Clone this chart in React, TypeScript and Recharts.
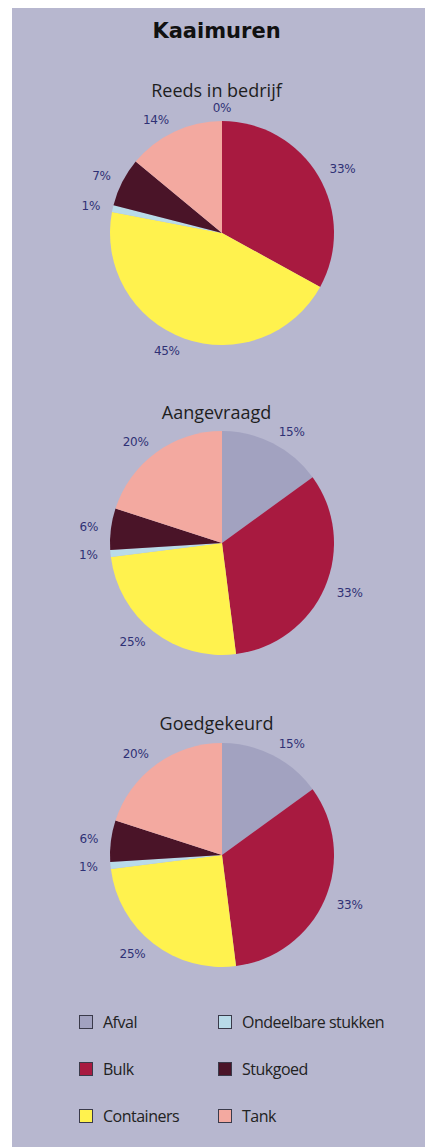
import { PieChart, Pie, Cell } from 'recharts'

const categories = ['Afval', 'Bulk', 'Containers', 'Ondeelbare stukken', 'Stukgoed', 'Tank']
const sliceColors = ['#a2a2c0', '#a81a40', '#fff24e', '#b9dbe9', '#4a1428', '#f3a9a0']

const reedsInBedrijf = [0, 33, 45, 1, 7, 14]
const aangevraagd = [15, 33, 25, 1, 6, 20]
const goedgekeurd = [15, 33, 25, 1, 6, 20]

const pieTitles = ['Reeds in bedrijf', 'Aangevraagd', 'Goedgekeurd']
const pieSeries = [reedsInBedrijf, aangevraagd, goedgekeurd]

// legend laid out in two columns, row by row
const legendOrder = [0, 3, 1, 4, 2, 5]

const PANEL_W = 413
const PANEL_H = 1139
const CX = 210
const CYS = [225, 535, 847]
const TITLE_Y = [81, 403, 714]
const R = 112
const RADIAN = Math.PI / 180

const labelFont = '"DejaVu Sans", sans-serif'

function renderLabel(props: any) {
  const { cx, cy, midAngle, outerRadius, value } = props
  const r = outerRadius + 13
  const cos = Math.cos(-midAngle * RADIAN)
  const sin = Math.sin(-midAngle * RADIAN)
  const x = cx + r * cos
  const y = cy + r * sin
  const anchor = cos > 0.25 ? 'start' : cos < -0.25 ? 'end' : 'middle'
  return (
    <text
      x={x}
      y={y}
      textAnchor={anchor}
      dominantBaseline="central"
      fill="#2f3175"
      fontSize={12}
      letterSpacing={-0.3}
      fontFamily={labelFont}
    >
      {`${value}%`}
    </text>
  )
}

export default function App() {
  return (
    <div style={{ position: 'fixed', left: 0, top: 0, width: 425, height: 1147, background: '#ffffff' }}>
      <div
        style={{
          position: 'absolute',
          left: 12,
          top: 8,
          width: PANEL_W,
          height: PANEL_H,
          background: '#b7b7cf',
          fontFamily: '"Open Sans", "Noto Sans", sans-serif',
          color: '#222222',
        }}
      >
        <div
          style={{
            position: 'absolute',
            top: 11,
            left: 0,
            width: PANEL_W - 4,
            textAlign: 'center',
            fontSize: 21,
            fontWeight: 700,
            fontFamily: '"DejaVu Sans", sans-serif',
            color: '#111111',
          }}
        >
          Kaaimuren
        </div>
        {pieTitles.map((t, i) => (
          <div
            key={t}
            style={{
              position: 'absolute',
              top: TITLE_Y[i] - 11,
              left: 0,
              width: PANEL_W - 4,
              textAlign: 'center',
              fontSize: 18,
              color: '#1e1e1e',
            }}
          >
            {t}
          </div>
        ))}
        <div style={{ position: 'absolute', left: 0, top: 0 }}>
          <PieChart width={PANEL_W} height={1000} margin={{ top: 0, right: 0, bottom: 0, left: 0 }}>
            {pieSeries.map((series, i) => (
              <Pie
                key={pieTitles[i]}
                data={series.map((v, j) => ({ name: categories[j], value: v }))}
                dataKey="value"
                nameKey="name"
                cx={CX}
                cy={CYS[i]}
                outerRadius={R}
                startAngle={90}
                endAngle={-270}
                stroke="none"
                label={renderLabel}
                labelLine={false}
                isAnimationActive={false}
              >
                {series.map((_, j) => (
                  <Cell key={categories[j]} fill={sliceColors[j]} />
                ))}
              </Pie>
            ))}
          </PieChart>
        </div>
        <div
          style={{
            position: 'absolute',
            left: 67,
            top: 1002,
            display: 'grid',
            gridTemplateColumns: '139px 190px',
            rowGap: 24,
          }}
        >
          {legendOrder.map((j) => (
            <div
              key={categories[j]}
              style={{
                display: 'flex',
                alignItems: 'center',
                height: 23,
                fontSize: 16,
                letterSpacing: -0.5,
                whiteSpace: 'nowrap',
              }}
            >
              <span
                style={{
                  display: 'inline-block',
                  width: 12,
                  height: 12,
                  background: sliceColors[j],
                  border: '1px solid #3a3a4a',
                  marginRight: 10,
                }}
              />
              <span>{categories[j]}</span>
            </div>
          ))}
        </div>
      </div>
    </div>
  )
}
